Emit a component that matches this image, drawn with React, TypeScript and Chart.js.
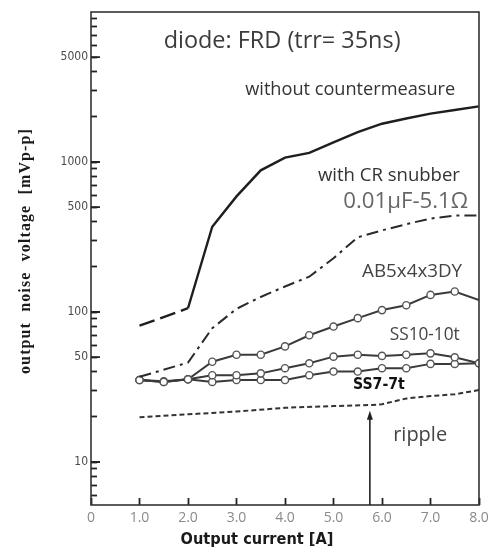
import React, { useEffect, useRef } from 'react';
import { Chart, registerables } from 'chart.js';

Chart.register(...registerables);

// ---- data ----
const X_MAIN = [1.0, 2.0, 2.5, 3.0, 3.5, 4.0, 4.5, 5.0, 5.5, 6.0, 6.5, 7.0, 7.5, 8.0];
const WITHOUT = [81, 106, 370, 590, 880, 1070, 1150, 1350, 1580, 1800, 1950, 2100, 2220, 2350];
const SNUBBER = [37, 46, 78, 105, 126, 148, 172, 228, 315, 350, 385, 420, 440, 440];

const X_CIRCLE = [1.0, 1.5, 2.0, 2.5, 3.0, 3.5, 4.0, 4.5, 5.0, 5.5, 6.0, 6.5, 7.0, 7.5, 8.0];
const AB5X4X3DY = [35.2, 34.2, 35.6, 46.6, 51.9, 51.9, 59, 70, 80, 91, 103, 111, 130, 137, 120];
const SS10_10T = [35.2, 34.5, 35.6, 37.9, 37.9, 39.0, 42.2, 45.5, 50.4, 51.9, 51.0, 51.9, 53.0, 49.9, 45.5];
const SS7_7T = [35.2, 34.2, 35.6, 34.2, 35.2, 35.2, 35.2, 37.9, 40.1, 40.1, 42.2, 42.2, 45.1, 45.1, 45.5];

const X_RIPPLE = [1.0, 2.0, 3.0, 4.0, 5.0, 5.8, 6.0, 6.5, 7.0, 7.5, 8.0];
const RIPPLE = [19.9, 20.8, 21.7, 23.0, 23.6, 24.0, 24.3, 26.5, 27.5, 28.3, 30.2];

const X_TICKS = [0, 1, 2, 3, 4, 5, 6, 7, 8];
const X_TICK_LABELS = ['0', '1.0', '2.0', '3.0', '4.0', '5.0', '6.0', '7.0', '8.0'];
const Y_MAJOR = [10, 50, 100, 500, 1000, 5000];
const Y_MINOR = [6, 7, 8, 9, 20, 30, 40, 60, 70, 80, 90, 200, 300, 400, 600, 700, 800, 900, 2000, 3000, 4000, 6000, 7000, 8000, 9000];

const ARROW_X = 5.75;
const ARROW_TIP = 22;

const TITLE_X = 'Output current [A]';
const TITLE_Y = 'output  noise  voltage  [mVp-p]';

type Note = { text: string; x: number; y: number; w: number; align: CanvasTextAlign; family: string; weight: string; color: string };
const NOTES: Note[] = [
  { text: 'diode: FRD (trr= 35ns)', x: 3.94, y: 6400, w: 237, align: 'center', family: '"Open Sans", sans-serif', weight: 'normal', color: '#3c3c3c' },
  { text: 'without countermeasure', x: 3.18, y: 3020, w: 210, align: 'left', family: '"Open Sans", sans-serif', weight: 'normal', color: '#333' },
  { text: 'with CR snubber', x: 4.68, y: 810, w: 142, align: 'left', family: '"Open Sans", sans-serif', weight: 'normal', color: '#333' },
  { text: '0.01\u03bcF-5.1\u03a9', x: 5.2, y: 541, w: 125, align: 'left', family: '"Open Sans", sans-serif', weight: 'normal', color: '#666' },
  { text: 'AB5x4x3DY', x: 5.59, y: 185, w: 100, align: 'left', family: '"Open Sans", sans-serif', weight: 'normal', color: '#444' },
  { text: 'SS10-10t', x: 6.16, y: 70, w: 70, align: 'left', family: '"Open Sans", sans-serif', weight: 'normal', color: '#444' },
  { text: 'SS7-7t', x: 5.4, y: 32.6, w: 52, align: 'left', family: '"DejaVu Sans Condensed", "DejaVu Sans", sans-serif', weight: 'bold', color: '#111' },
  { text: 'ripple', x: 6.23, y: 15.1, w: 54, align: 'left', family: '"Open Sans", sans-serif', weight: 'normal', color: '#444' },
];

const pts = (xs: number[], ys: number[]) => xs.map((x, i) => ({ x, y: ys[i] }));

function sizedText(ctx: any, text: string, x: number, y: number, width: number, weight: string, family: string) {
  const base = 16;
  ctx.font = `${weight} ${base}px ${family}`;
  const m = ctx.measureText(text).width;
  const size = (base * width) / m;
  ctx.font = `${weight} ${size.toFixed(2)}px ${family}`;
  ctx.fillText(text, x, y);
}

function spacedText(ctx: any, text: string, x: number, y: number, width: number, font: string) {
  ctx.font = font;
  ctx.letterSpacing = '0px';
  const m = ctx.measureText(text).width;
  let sp = (width - m) / Math.max(1, text.length - 1);
  sp = Math.max(-1, Math.min(3, sp));
  ctx.letterSpacing = `${sp.toFixed(2)}px`;
  const w2 = ctx.measureText(text).width;
  ctx.textAlign = 'left';
  ctx.fillText(text, x - w2 / 2, y);
  ctx.letterSpacing = '0px';
}

const decorPlugin = {
  id: 'decor',
  afterDraw(chart: any) {
    const { ctx, chartArea: a, scales } = chart;
    const xs = scales.x;
    const ys = scales.y;
    ctx.save();
    ctx.globalAlpha = 1;
    ctx.setLineDash([]);
    // frame
    ctx.strokeStyle = '#333';
    ctx.lineWidth = 1.6;
    ctx.strokeRect(a.left, a.top, a.right - a.left, a.bottom - a.top);
    // longer major y ticks (inside)
    ctx.strokeStyle = '#222';
    ctx.lineWidth = 1.8;
    ctx.beginPath();
    Y_MAJOR.forEach((v) => {
      const py = ys.getPixelForValue(v);
      ctx.moveTo(a.left, py);
      ctx.lineTo(a.left + 9, py);
    });
    ctx.stroke();
    // arrow
    const ax = xs.getPixelForValue(ARROW_X);
    const ay = ys.getPixelForValue(ARROW_TIP);
    ctx.strokeStyle = '#222';
    ctx.fillStyle = '#222';
    ctx.lineWidth = 1.6;
    ctx.beginPath();
    ctx.moveTo(ax, a.bottom);
    ctx.lineTo(ax, ay + 6);
    ctx.stroke();
    ctx.beginPath();
    ctx.moveTo(ax, ay);
    ctx.lineTo(ax - 3, ay + 9);
    ctx.lineTo(ax + 3, ay + 9);
    ctx.closePath();
    ctx.fill();
    // notes
    ctx.textBaseline = 'middle';
    NOTES.forEach((n) => {
      ctx.fillStyle = n.color;
      ctx.textAlign = n.align;
      sizedText(ctx, n.text, xs.getPixelForValue(n.x), ys.getPixelForValue(n.y), n.w, n.weight, n.family);
    });
    // axis titles
    ctx.fillStyle = '#1a1a1a';
    ctx.textAlign = 'center';
    sizedText(ctx, TITLE_X, 257, 540, 153, 'bold', '"DejaVu Sans Condensed", "DejaVu Sans", sans-serif');
    ctx.translate(26, 251);
    ctx.rotate(-Math.PI / 2);
    spacedText(ctx, TITLE_Y, 0, 0, 245, 'bold 16px "Liberation Serif", serif');
    ctx.restore();
  },
};

export default function App() {
  const ref = useRef<HTMLCanvasElement | null>(null);
  useEffect(() => {
    if (!ref.current) return;
    const lineColor = '#3a3a3a';
    const circleDs = (label: string, ys: number[], radii?: number[]) => ({
      label,
      data: pts(X_CIRCLE, ys),
      borderColor: lineColor,
      borderWidth: 2,
      pointRadius: radii || 3.6,
      pointBackgroundColor: '#fff',
      pointBorderColor: '#555',
      pointBorderWidth: 1.4,
      tension: 0,
    });
    const chart = new Chart(ref.current, {
      type: 'line',
      data: {
        datasets: [
          {
            label: 'without countermeasure',
            data: pts(X_MAIN, WITHOUT),
            borderColor: '#1e1e1e',
            borderWidth: 2.4,
            pointRadius: 0,
            tension: 0,
            segment: { borderDash: (c: any) => (c.p0DataIndex === 0 ? [16, 6] : undefined) },
          },
          {
            label: 'with CR snubber 0.01\u03bcF-5.1\u03a9',
            data: pts(X_MAIN, SNUBBER),
            borderColor: '#2a2a2a',
            borderWidth: 2,
            borderDash: [12, 5, 3, 5],
            pointRadius: 0,
            tension: 0,
          },
          circleDs('AB5x4x3DY', AB5X4X3DY, X_CIRCLE.map((_, i) => (i === X_CIRCLE.length - 1 ? 0 : 3.6))),
          circleDs('SS10-10t', SS10_10T),
          circleDs('SS7-7t', SS7_7T),
          {
            label: 'ripple',
            data: pts(X_RIPPLE, RIPPLE),
            borderColor: '#333',
            borderWidth: 2,
            borderDash: [5, 3],
            pointRadius: 0,
            tension: 0,
          },
        ],
      },
      options: {
        animation: false,
        responsive: true,
        maintainAspectRatio: false,
        layout: { padding: { left: 0, top: 12, right: 15, bottom: 0 } },
        plugins: { legend: { display: false }, tooltip: { enabled: false } },
        scales: {
          x: {
            type: 'linear',
            min: 0,
            max: 8,
            afterBuildTicks: (s: any) => {
              s.ticks = X_TICKS.map((v) => ({ value: v }));
            },
            afterFit: (s: any) => {
              s.height = 48;
              s.paddingLeft = 0;
              s.paddingRight = 0;
            },
            grid: {
              display: true,
              drawOnChartArea: false,
              drawTicks: true,
              tickLength: -7,
              tickWidth: 1.8,
              tickColor: '#222',
            },
            border: { display: false },
            ticks: {
              padding: 12,
              autoSkip: false,
              maxRotation: 0,
              color: '#8a8a8a',
              font: { family: '"Open Sans", sans-serif', size: 14 },
              callback: (v: any) => X_TICK_LABELS[X_TICKS.indexOf(Number(v))] ?? '',
            },
          },
          y: {
            type: 'logarithmic',
            min: 5.17,
            max: 10000,
            afterBuildTicks: (s: any) => {
              s.ticks = [...Y_MAJOR, ...Y_MINOR].sort((p, q) => p - q).map((v) => ({ value: v }));
            },
            afterFit: (s: any) => {
              s.width = 91;
              s.paddingTop = 0;
              s.paddingBottom = 0;
            },
            grid: {
              display: true,
              drawOnChartArea: false,
              drawTicks: true,
              tickLength: -6,
              tickWidth: 1.8,
              tickColor: '#222',
            },
            border: { display: false },
            ticks: {
              padding: 9,
              autoSkip: false,
              color: '#4a4a4a',
              font: { family: '"Liberation Sans Narrow", "DejaVu Sans Condensed", sans-serif', size: 12 },
              callback: (v: any) => (Y_MAJOR.includes(Number(v)) ? String(v) : ''),
            },
          },
        },
      },
      plugins: [decorPlugin],
    } as any);
    return () => chart.destroy();
  }, []);
  return (
    <div style={{ position: 'fixed', left: 0, top: 0, width: 494, height: 553, background: '#fff' }}>
      <canvas ref={ref} />
    </div>
  );
}
